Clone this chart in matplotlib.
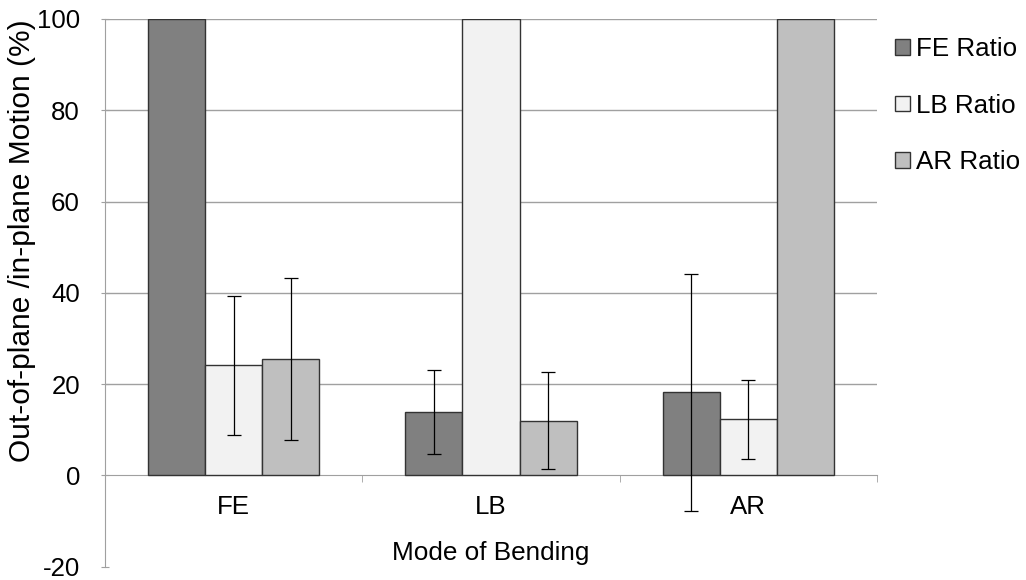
import matplotlib
matplotlib.use("Agg")
import matplotlib.pyplot as plt
import numpy as np
from matplotlib.patches import Patch

categories = ["FE", "LB", "AR"]
series_names = ["FE Ratio", "LB Ratio", "AR Ratio"]
fe_ratio = [100, 13.9, 18.2]
fe_err = [0, 9.3, 25.9]
lb_ratio = [24.1, 100, 12.3]
lb_err = [15.3, 0, 8.6]
ar_ratio = [25.5, 12.0, 100]
ar_err = [17.8, 10.6, 0]
yticks = [-20, 0, 20, 40, 60, 80, 100]

colors = ["#808080", "#F2F2F2", "#BFBFBF"]
edge = "#333333"
grid_c = "#A0A0A0"

plt.rcParams["font.family"] = ["Liberation Sans", "DejaVu Sans"]
fs_tick = 18.6
fs_xlabel = 18.8
fs_ylabel = 21.5
fs_leg = 18.7

fig = plt.figure(figsize=(10.26, 5.8), dpi=100)
ax = fig.add_axes([105 / 1026, 13.3 / 580, (877 - 105) / 1026, (566.7 - 19) / 580])

x = np.arange(len(categories))
w = 0.667 / 3
series = [(fe_ratio, fe_err), (lb_ratio, lb_err), (ar_ratio, ar_err)]
for i, ((vals, errs), c, name) in enumerate(zip(series, colors, series_names)):
    pos = x + (i - 1) * w
    ax.bar(pos, vals, width=w, color=c, edgecolor=edge, linewidth=1.0, zorder=3, label=name)
    mask = np.array(errs) > 0
    ax.errorbar(pos[mask], np.array(vals)[mask], yerr=np.array(errs)[mask], fmt="none",
                ecolor="black", elinewidth=0.9, capsize=4.8, capthick=0.9, zorder=4)

ax.set_xlim(-0.5, 2.5)
ax.set_ylim(-20, 100)
for t in yticks:
    if t > 0:
        ax.axhline(t, color=grid_c, lw=1.0, zorder=1)

for s in ["top", "right"]:
    ax.spines[s].set_visible(False)
ax.spines["bottom"].set_position(("data", 0))
ax.spines["bottom"].set_color(grid_c)
ax.spines["left"].set_color(grid_c)
ax.spines["bottom"].set_zorder(2)

ax.set_yticks(yticks)
ax.set_yticklabels([str(t) for t in yticks], fontsize=fs_tick)
ax.tick_params(axis="y", direction="inout", length=6, color=grid_c, pad=15)
ax.set_xticks(x)
ax.set_xticklabels(categories, fontsize=fs_tick)
ax.set_xticks([-0.5, 0.5, 1.5, 2.5], minor=True)
ax.tick_params(axis="x", which="major", length=0, pad=14)
ax.tick_params(axis="x", which="minor", length=5, direction="out", color=grid_c)

ax.set_xlabel("Mode of Bending", fontsize=fs_xlabel, labelpad=16)
ax.set_ylabel("Out-of-plane /in-plane Motion (%)", fontsize=fs_ylabel)
ax.yaxis.set_label_coords(-0.0894, 0.5947)

handles = [Patch(facecolor=c, edgecolor=edge, linewidth=1.0) for c in colors]
fig.legend(handles, series_names, loc="upper left", bbox_to_anchor=(885 / 1026, 1 - 27 / 580),
           frameon=False, fontsize=fs_leg, handlelength=0.55, handleheight=0.55,
           handletextpad=0.25, labelspacing=1.25, borderaxespad=0)

fig.savefig("out.png", dpi=100)
